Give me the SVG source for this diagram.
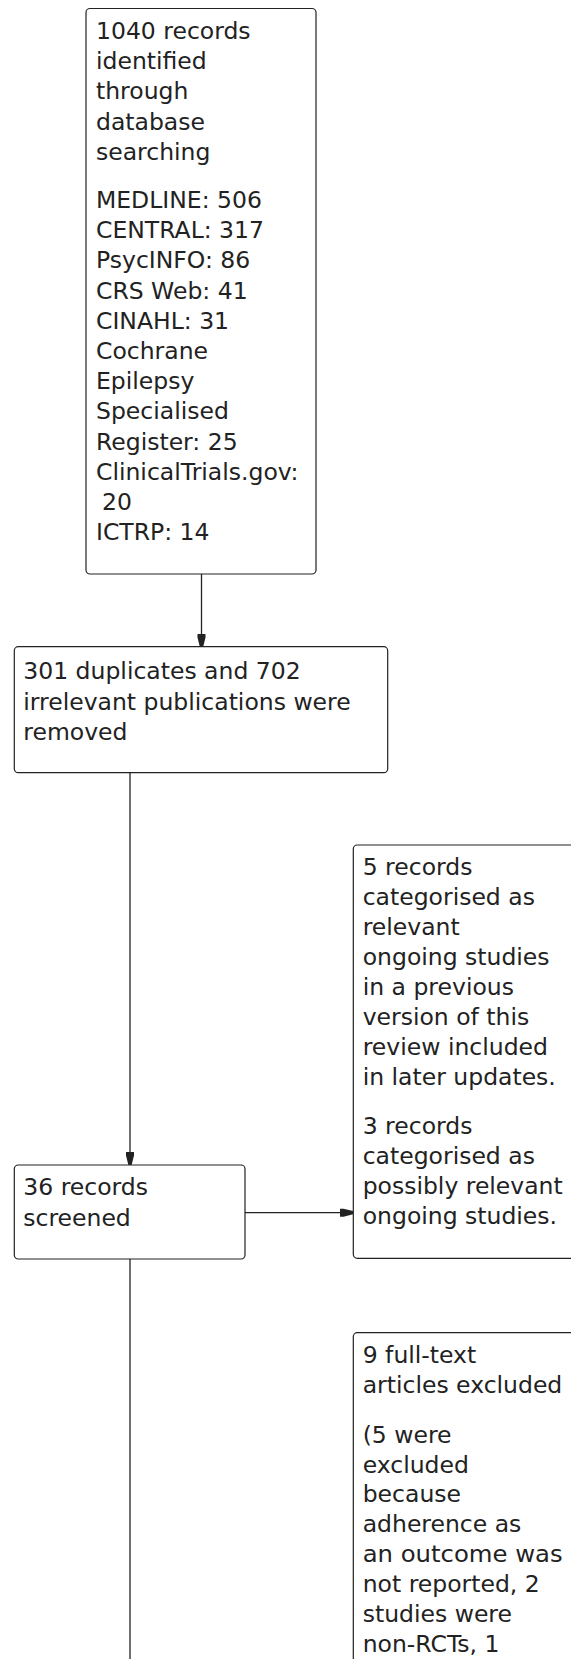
<svg xmlns="http://www.w3.org/2000/svg" width="571" height="1659" viewBox="0 0 571 1659">
<style>
.box{fill:#fff;stroke:#222;stroke-width:1.2}
.t{font-family:"DejaVu Sans",Verdana,sans-serif;font-size:23.5px;fill:#222}
.c{fill:none;stroke:#222;stroke-width:1.3}
</style>
<defs>
<marker id="ah" markerUnits="userSpaceOnUse" markerWidth="14" markerHeight="10" viewBox="0 -5 14 10" refX="13" refY="0" orient="auto">
<path d="M0,-4 L3.5,-4 L13,-1.6 L13,1.6 L3.5,4 L0,4 Z" fill="#222"/>
</marker>
</defs>
<rect width="571" height="1659" fill="#fff"/>
<g id="connectors">
<line class="c" x1="201.5" y1="574" x2="201.5" y2="647" marker-end="url(#ah)"/>
<line class="c" x1="130" y1="773" x2="130" y2="1165" marker-end="url(#ah)"/>
<line class="c" x1="245" y1="1212.7" x2="353" y2="1212.7" marker-end="url(#ah)"/>
<line class="c" x1="130" y1="1259" x2="130" y2="1662"/>
</g>
<g id="n1">
<rect class="box" x="86" y="8.5" width="230" height="565.5" rx="4"/>
<text class="t">
<tspan x="96" y="39">1040 records</tspan>
<tspan x="96" y="69.2">identified</tspan>
<tspan x="96" y="99.4">through</tspan>
<tspan x="96" y="129.6">database</tspan>
<tspan x="96" y="159.8">searching</tspan>
<tspan x="96" y="208">MEDLINE: 506</tspan>
<tspan x="96" y="238.2">CENTRAL: 317</tspan>
<tspan x="96" y="268.4">PsycINFO: 86</tspan>
<tspan x="96" y="298.6">CRS Web: 41</tspan>
<tspan x="96" y="328.8">CINAHL: 31</tspan>
<tspan x="96" y="359">Cochrane</tspan>
<tspan x="96" y="389.2">Epilepsy</tspan>
<tspan x="96" y="419.4">Specialised</tspan>
<tspan x="96" y="449.6">Register: 25</tspan>
<tspan x="96" y="479.8">ClinicalTrials.gov:</tspan>
<tspan x="102" y="510">20</tspan>
<tspan x="96" y="540.2">ICTRP: 14</tspan>
</text>
</g>
<g id="n2">
<rect class="box" x="14.3" y="646.7" width="373.4" height="126" rx="4"/>
<text class="t">
<tspan x="23.3" y="679.3">301 duplicates and 702</tspan>
<tspan x="23.3" y="709.5">irrelevant publications were</tspan>
<tspan x="23.3" y="739.5">removed</tspan>
</text>
</g>
<g id="n3">
<rect class="box" x="353.3" y="845" width="230" height="413.3" rx="4"/>
<text class="t">
<tspan x="362.7" y="875">5 records</tspan>
<tspan x="362.7" y="905">categorised as</tspan>
<tspan x="362.7" y="935">relevant</tspan>
<tspan x="362.7" y="965">ongoing studies</tspan>
<tspan x="362.7" y="995">in a previous</tspan>
<tspan x="362.7" y="1025">version of this</tspan>
<tspan x="362.7" y="1055">review included</tspan>
<tspan x="362.7" y="1085">in later updates.</tspan>
<tspan x="362.7" y="1134">3 records</tspan>
<tspan x="362.7" y="1164">categorised as</tspan>
<tspan x="362.7" y="1224">ongoing studies.</tspan>
</text>
<text class="t" x="362.7" y="1194" textLength="200" lengthAdjust="spacingAndGlyphs">possibly relevant</text>
</g>
<g id="n4">
<rect class="box" x="14.3" y="1165" width="230.7" height="94" rx="4"/>
<text class="t">
<tspan x="23.3" y="1195">36 records</tspan>
<tspan x="23.3" y="1225.5">screened</tspan>
</text>
</g>
<g id="n5">
<rect class="box" x="353.3" y="1332.7" width="230" height="340" rx="4"/>
<text class="t">
<tspan x="362.7" y="1363.3">9 full-text</tspan>
<tspan x="362.7" y="1393.3">articles excluded</tspan>
<tspan x="362.7" y="1442.7">(5 were</tspan>
<tspan x="362.7" y="1472.7">excluded</tspan>
<tspan x="362.7" y="1502">because</tspan>
<tspan x="362.7" y="1532">adherence as</tspan>
<tspan x="362.7" y="1592">not reported, 2</tspan>
<tspan x="362.7" y="1622">studies were</tspan>
<tspan x="362.7" y="1652">non-RCTs, 1</tspan>
</text>
<text class="t" x="362.7" y="1562" textLength="200" lengthAdjust="spacingAndGlyphs">an outcome was</text>
</g>
</svg>
